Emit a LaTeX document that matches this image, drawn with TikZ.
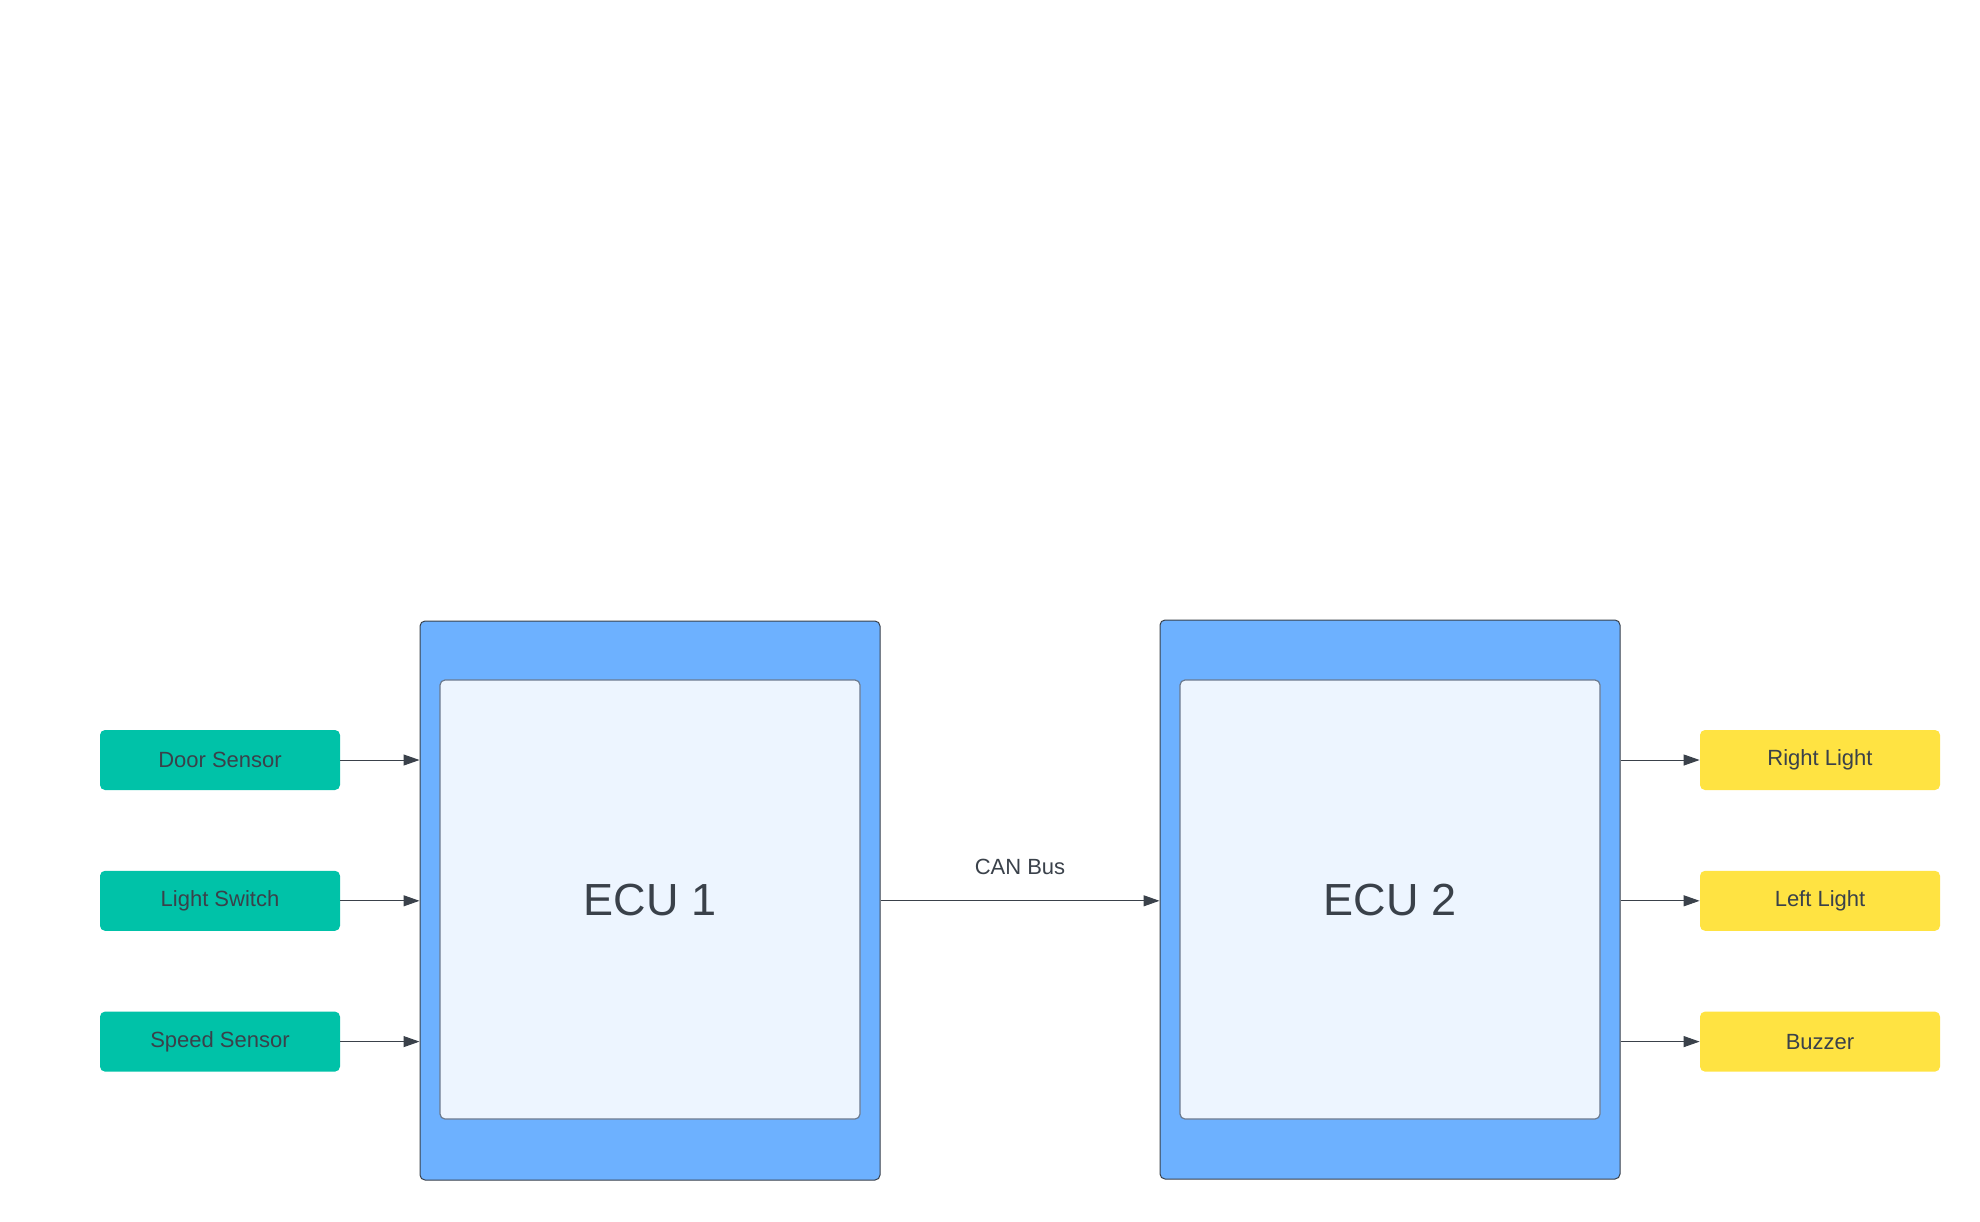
\documentclass[tikz,border=0pt]{standalone}
\usepackage{fontspec}
\setmainfont{Liberation Sans}
\usetikzlibrary{arrows.meta, positioning}

\definecolor{ink}{HTML}{3A414A}
\definecolor{sensorgreen}{HTML}{00C2A8}
\definecolor{lampyellow}{HTML}{FFE342}
\definecolor{ecublue}{HTML}{6DB1FF}
\definecolor{ecupale}{HTML}{EDF5FF}
\definecolor{ecuedge}{HTML}{6B7A8F}

\begin{document}
\begin{tikzpicture} [
						x=0.5pt, y=-0.5pt,
						every node/.style={text=ink, font=\fontsize{11}{13}\selectfont},
						inbox/.style={fill=sensorgreen, rounded corners=2.5pt, minimum width=120pt, minimum height=30pt, inner sep=0pt},
						outbox/.style={fill=lampyellow, rounded corners=2.5pt, minimum width=120pt, minimum height=30pt, inner sep=0pt},
						ecuframe/.style={draw=ink, line width=0.5pt, fill=ecublue, rounded corners=2.5pt, minimum width=230pt, minimum height=279.5pt, inner sep=0pt},
						ecucore/.style={draw=ecuedge, line width=0.6pt, fill=ecupale, rounded corners=2.5pt, minimum width=210pt, minimum height=219.5pt, inner sep=0pt, font=\fontsize{22.5}{26}\selectfont},
						wire/.style={color=ink, line width=0.5pt, -{Triangle[length=8pt, width=5.5pt]}}
					]

\useasboundingbox (0,0) rectangle (1980,1221);

% ECUs
\node (ecu1) [ecuframe] at (650,900.5) {};
\node (ecu1in) [ecucore] at (650,899.5) {ECU 1};
\node (ecu2) [ecuframe] at (1390,899.5) {};
\node (ecu2in) [ecucore] at (1390,899.5) {ECU 2};

% inputs
\node (door) [inbox] at (220,760) {Door Sensor};
\node (lsw) [inbox, below=40pt of door] {Light Switch};
\node (speed) [inbox, below=40pt of lsw] {Speed Sensor};

% outputs
\node (rlight) [outbox] at (1820,760) {Right Light};
\node (llight) [outbox, below=40pt of rlight] {Left Light};
\node (buzz) [outbox, below=40pt of llight] {Buzzer};

\node (can) at (1020,867) {CAN Bus};

\path[wire]
	(door) edge (door -| ecu1.west)
	(lsw) edge (lsw -| ecu1.west)
	(speed) edge (speed -| ecu1.west)
	(ecu1.east |- lsw) edge (ecu2.west |- lsw)
	(ecu2.east |- rlight) edge (rlight)
	(ecu2.east |- llight) edge (llight)
	(ecu2.east |- buzz) edge (buzz);
\end{tikzpicture}
\end{document}
